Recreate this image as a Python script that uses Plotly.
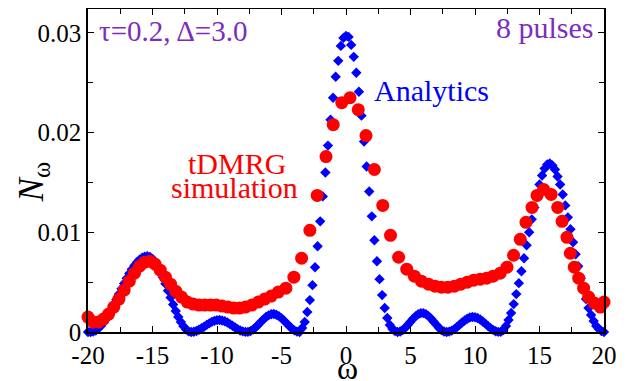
import numpy as np
import plotly.graph_objects as go

# ---------------- data ----------------
# Analytics (blue diamonds), omega grid -20..20 step 0.2
omega_analytic = np.round(np.arange(-100, 101) * 0.2, 1)
n_analytic = [
    0.0, 0.0, 0.00004, 0.00015, 0.00035, 0.00061, 0.00093, 0.00131, 0.00174, 0.00222,
    0.00273, 0.00326, 0.0038, 0.00434, 0.00487, 0.00538, 0.00586, 0.00629, 0.00667, 0.00699,
    0.00726, 0.00745, 0.00756, 0.0076, 0.00754, 0.00734, 0.00703, 0.0066, 0.00609, 0.00549,
    0.00484, 0.00415, 0.00345, 0.00276, 0.00211, 0.00151, 0.001, 0.00057, 0.00026, 0.00006,
    0.0, 0.00003, 0.0001, 0.00022, 0.00037, 0.00053, 0.00071, 0.00087, 0.00102, 0.00112,
    0.00119, 0.0012, 0.00116, 0.00108, 0.00095, 0.00079, 0.00062, 0.00045, 0.00029, 0.00015,
    0.00006, 0.00001, 0.00001, 0.00009, 0.00025, 0.00047, 0.00073, 0.001, 0.00127, 0.0015,
    0.00167, 0.00178, 0.0018, 0.00173, 0.00159, 0.00139, 0.00114, 0.00087, 0.0006, 0.00035,
    0.00016, 0.00004, 0.0, 0.0004, 0.001, 0.002, 0.0032, 0.0047, 0.0065, 0.0086,
    0.0111, 0.0136, 0.016, 0.0187, 0.0213, 0.0235, 0.0256, 0.0272, 0.0287, 0.0295,
    0.0297, 0.0296, 0.0288, 0.0276, 0.026, 0.0241, 0.0217, 0.0191, 0.0166, 0.0141,
    0.0116, 0.0092, 0.0071, 0.0053, 0.0037, 0.0024, 0.0014, 0.0007, 0.0003, 0.0001,
    0.0, 0.00005, 0.0002, 0.00043, 0.00072, 0.00103, 0.00133, 0.00159, 0.00179, 0.00189,
    0.00189, 0.00179, 0.00159, 0.00133, 0.00103, 0.00072, 0.00043, 0.0002, 0.00005, 0.0,
    0.00004, 0.00014, 0.00029, 0.0005, 0.00072, 0.00095, 0.00116, 0.00133, 0.00145, 0.0015,
    0.00148, 0.0014, 0.00125, 0.00106, 0.00084, 0.00061, 0.00039, 0.00021, 0.00008, 0.00001,
    0.00002, 0.0002, 0.0006, 0.0012, 0.0019, 0.0028, 0.0038, 0.0049, 0.0061, 0.0074,
    0.0087, 0.01, 0.0113, 0.0125, 0.0137, 0.0148, 0.0157, 0.0164, 0.0168, 0.0169,
    0.0167, 0.0163, 0.0156, 0.0148, 0.0138, 0.0127, 0.0115, 0.0103, 0.009, 0.0078,
    0.0066, 0.0054, 0.0043, 0.0033, 0.0024, 0.0017, 0.0011, 0.0006, 0.0003, 0.0001,
    0.0,
]

# tDMRG simulation (red circles)
omega_tdmrg = [
    -20.0, -19.6, -19.2, -18.8, -18.4, -18.0, -17.6, -17.2, -16.8, -16.4,
    -16.0, -15.6, -15.2, -14.8, -14.4, -14.0, -13.6, -13.2, -12.75, -12.3,
    -11.85, -11.4, -10.95, -10.5, -10.05, -9.6, -9.15, -8.7, -8.25, -7.8,
    -7.3, -6.8, -6.3, -5.8, -5.25, -4.66, -4.04, -3.44, -2.8, -2.23,
    -1.55, -0.99, -0.33, 0.31, 0.95, 1.55, 2.2, 2.85, 3.45, 4.08,
    4.71, 5.3, 5.85, 6.4, 6.9, 7.4, 7.9, 8.4, 8.9, 9.4,
    9.9, 10.4, 10.9, 11.4, 11.95, 12.48, 12.99, 13.51, 13.95, 14.42,
    14.81, 15.32, 15.9, 16.41, 16.75, 17.13, 17.39, 17.7, 18.04, 18.42,
    18.81, 19.25, 19.72, 20.0,
]
n_tdmrg = [
    0.0015, 0.001, 0.001, 0.0013, 0.0018, 0.0025, 0.0033, 0.0042, 0.0051, 0.0059,
    0.0066, 0.007, 0.0071, 0.0068, 0.0062, 0.0055, 0.0048, 0.0041, 0.0035, 0.003,
    0.0028, 0.0027, 0.0027, 0.0027, 0.0027, 0.0026, 0.0025, 0.0024, 0.0024, 0.0025,
    0.0027, 0.003, 0.0033, 0.0036, 0.004, 0.0044, 0.0055, 0.0074, 0.0102, 0.0137,
    0.0176, 0.0208, 0.023, 0.0235, 0.0223, 0.0197, 0.0163, 0.0127, 0.0097, 0.0075,
    0.0063, 0.0056, 0.0051, 0.0048, 0.0046, 0.0045, 0.0045, 0.0046, 0.0048, 0.005,
    0.0052, 0.0053, 0.0054, 0.0056, 0.0059, 0.0065, 0.0077, 0.0093, 0.011, 0.0125,
    0.0137, 0.0143, 0.0138, 0.0125, 0.0111, 0.0095, 0.0079, 0.0065, 0.0054, 0.0044,
    0.0035, 0.0029, 0.0025, 0.003,
]

x_tickvals = [-20, -15, -10, -5, 0, 5, 10, 15, 20]
x_ticktext = ["-20", "-15", "-10", "-5", "0", "5", "10", "15", "20"]
x_minor = [-17.5, -12.5, -7.5, -2.5, 2.5, 7.5, 12.5, 17.5]
y_tickvals = [0, 0.01, 0.02, 0.03]
y_ticktext = ["0", "0.01", "0.02", "0.03"]
y_minor = [0.005, 0.015, 0.025]

FONT = "Liberation Serif"
PURPLE = "rgb(125,45,190)"

fig = go.Figure()
fig.add_trace(go.Scatter(
    x=omega_analytic, y=n_analytic, mode="markers", name="Analytics",
    marker=dict(symbol="diamond", size=8, color="#0000FF", line=dict(width=0)),
    cliponaxis=False,
))
fig.add_trace(go.Scatter(
    x=omega_tdmrg, y=n_tdmrg, mode="markers", name="tDMRG simulation",
    marker=dict(symbol="circle", size=13, color="#FF0000", line=dict(width=0)),
    cliponaxis=False,
))

axis_common = dict(
    showline=True, linecolor="black", linewidth=1.5, mirror="allticks",
    ticks="inside", ticklen=6, tickwidth=1, tickcolor="black",
    showgrid=False, zeroline=False, automargin=False,
    tickfont=dict(family=FONT, size=25, color="black"),
)

fig.update_xaxes(
    range=[-20, 20], tickmode="array", tickvals=x_tickvals, ticktext=x_ticktext,
    minor=dict(tickmode="array", tickvals=x_minor, ticks="inside", ticklen=5,
               tickwidth=1, tickcolor="black"),
    **axis_common,
)
fig.update_yaxes(
    range=[0, 0.0324], tickmode="array", tickvals=y_tickvals, ticktext=y_ticktext,
    minor=dict(tickmode="array", tickvals=y_minor, ticks="inside", ticklen=5,
               tickwidth=1, tickcolor="black"),
    **axis_common,
)

annotations = [
    dict(text="τ=0.2, Δ=3.0", x=-19.33, y=0.03022, xanchor="left", yanchor="middle",
         font=dict(family=FONT, size=29, color=PURPLE)),
    dict(text="8 pulses", x=19.41, y=0.03052, xanchor="right", yanchor="middle",
         font=dict(family=FONT, size=30, color=PURPLE)),
    dict(text="Analytics", x=2.02, y=0.02419, xanchor="left", yanchor="middle",
         font=dict(family=FONT, size=30, color="#0000FF")),
    dict(text="tDMRG", x=-8.46, y=0.01695, xanchor="center", yanchor="middle",
         font=dict(family=FONT, size=30, color="#FF0000")),
    dict(text="simulation", x=-8.62, y=0.01454, xanchor="center", yanchor="middle",
         font=dict(family=FONT, size=30, color="#FF0000")),
    dict(text="ω", x=0.1, y=0, yref="y", xanchor="center", yanchor="middle", yshift=-36,
         font=dict(family=FONT, size=32, color="black")),
    dict(text="<i>N</i><sub>ω</sub>", x=0, xref="paper", y=0.015, yref="y",
         xanchor="center", yanchor="middle", xshift=-55, textangle=-90,
         font=dict(family=FONT, size=35, color="black")),
]
for a in annotations:
    a.setdefault("xref", "x")
    a.setdefault("yref", "y")
    a["showarrow"] = False

# the page body adds an 8 px offset; margins compensate so the plot frame
# lands at x 88..603.5, y 9..331.7 in the 628x381 window
fig.update_layout(
    width=628, height=381,
    margin=dict(l=80, r=32, t=1, b=57),
    plot_bgcolor="white", paper_bgcolor="white",
    showlegend=False,
    font=dict(family=FONT, size=25, color="black"),
    annotations=annotations,
)

fig.write_html("out.html")
